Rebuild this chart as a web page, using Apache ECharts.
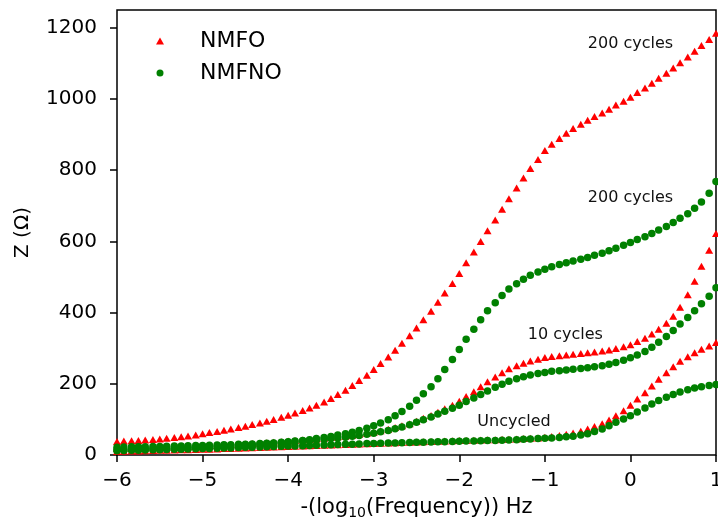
<!DOCTYPE html>
<html>
<head>
<meta charset="utf-8">
<script src="https://cdn.jsdelivr.net/npm/echarts@6/dist/echarts.min.js"></script>
<style>
  html, body { margin: 0; padding: 0; background: #fff; }
  #chart { width: 718px; height: 529px; }
</style>
</head>
<body>
<div id="chart"></div>
<script>
// Frequency sweep: -(log10 f), 12 points per decade
const logFreq = [
  -6, -5.92, -5.83, -5.75, -5.67, -5.58, -5.5, -5.42, -5.33, -5.25, -5.17, -5.08,
  -5, -4.92, -4.83, -4.75, -4.67, -4.58, -4.5, -4.42, -4.33, -4.25, -4.17, -4.08,
  -4, -3.92, -3.83, -3.75, -3.67, -3.58, -3.5, -3.42, -3.33, -3.25, -3.17, -3.08,
  -3, -2.92, -2.83, -2.75, -2.67, -2.58, -2.5, -2.42, -2.33, -2.25, -2.17, -2.08,
  -2, -1.92, -1.83, -1.75, -1.67, -1.58, -1.5, -1.42, -1.33, -1.25, -1.17, -1.08,
  -1, -0.92, -0.83, -0.75, -0.67, -0.58, -0.5, -0.42, -0.33, -0.25, -0.17, -0.08,
  0, 0.08, 0.17, 0.25, 0.33, 0.42, 0.5, 0.58, 0.67, 0.75, 0.83, 0.92, 1
];

// NMFO impedance (ohm)
const nmfoUncycled = [
  10, 10.5, 11, 11.5, 12, 12.5, 13, 13.5, 14, 14.5, 15, 15.5, 16,
  16.5, 17, 18, 18.5, 19, 20, 20.5, 21, 22, 22.5, 23, 24,
  24.5, 25, 26, 27, 27.5, 28, 29, 29.5, 30, 31, 31.5, 32.5,
  33, 34, 34.5, 35, 36, 36.5, 37, 38, 38.5, 39, 40, 40.5,
  41, 41.5, 42, 42.5, 43, 44, 44.5, 45, 46, 47, 48, 50,
  52, 55, 58, 62, 67, 73, 80, 88, 98, 110, 124, 140,
  157, 175, 194, 213, 231, 248, 263, 276, 287, 297, 306, 316
];
const nmfo10 = [
  18, 18.5, 19, 19.5, 20, 20.5, 21, 21.5, 22, 22.5, 23, 24, 25,
  26, 27, 28, 29, 30, 31, 32, 33, 34.5, 36, 37.5, 39,
  40.5, 42, 43.5, 45, 47, 49, 51, 53, 55.5, 58, 61, 64,
  68, 72, 77, 82, 88, 95, 103, 111, 120, 130, 140, 151,
  164, 178, 192, 206, 219, 231, 242, 251, 258, 264, 269, 274,
  277, 279, 281, 283, 285, 287, 289, 292, 295, 299, 304, 310,
  319, 328, 340, 353, 370, 390, 415, 450, 488, 530, 575, 622
];
const nmfo200 = [
  38, 39, 40, 41, 42, 43.5, 45, 47, 49, 51, 53.5, 56.5, 60,
  63, 66, 69.5, 73, 77, 81, 85.5, 90, 95, 100, 106, 112,
  118, 125, 132, 140, 149, 159, 170, 182, 195, 209, 224, 240,
  257, 275, 294, 314, 335, 357, 380, 404, 429, 455, 482, 510,
  540, 570, 600, 630, 660, 690, 720, 750, 778, 805, 830, 855,
  873, 889, 904, 917, 929, 940, 951, 961, 971, 983, 994, 1005,
  1018, 1031, 1044, 1058, 1072, 1087, 1102, 1118, 1134, 1150, 1167, 1185
];

// NMFNO impedance (ohm)
const nmfnoUncycled = [
  12, 12.5, 13, 13.5, 14, 14.5, 15, 15.5, 16, 16.5, 17, 17.5, 18,
  18.5, 19, 19.5, 20, 21, 21.5, 22, 22.5, 23, 24, 24.5, 25,
  25.5, 26, 27, 27.5, 28, 29, 29.5, 30, 30.5, 31, 32, 32.5,
  33, 33.5, 34, 34.5, 35, 35.5, 36, 36.5, 37, 37.5, 38, 38.5,
  39, 39.5, 40, 40.5, 41, 41.5, 42, 43, 44, 45, 46, 47,
  48, 49, 51, 53, 56, 60, 66, 73, 82, 92, 101, 110,
  121, 132, 143, 153, 162, 170, 177, 183, 188, 192, 195, 198
];
const nmfno10 = [
  15, 15.5, 16, 16.5, 17, 17.5, 18, 18.5, 19, 19.5, 20, 21, 22,
  23, 24, 25, 26, 27, 28, 29, 30, 31.5, 33, 34.5, 36,
  37.5, 39, 40.5, 42, 44, 46, 48, 50, 52.5, 55, 58, 61,
  65, 69, 74, 79, 85, 92, 99, 107, 115, 123, 131, 140,
  150, 160, 170, 180, 190, 199, 207, 214, 220, 225, 229, 232,
  235, 237, 239, 241, 243, 245, 248, 251, 255, 260, 266, 273,
  281, 291, 303, 317, 333, 350, 368, 386, 405, 425, 446, 470
];
const nmfno200 = [
  22, 22.5, 23, 23, 23.5, 24, 24, 24.5, 25, 25.5, 26, 26.5, 27,
  27.5, 28, 28.5, 29, 30, 30.5, 31, 32, 33, 34, 35.5, 37,
  39, 41, 43, 46, 49, 52, 56, 60, 64, 69, 75, 82,
  90, 99, 110, 122, 137, 154, 172, 192, 214, 240, 268, 296,
  325, 353, 380, 405, 428, 448, 466, 481, 494, 505, 514, 522,
  529, 535, 540, 545, 550, 555, 561, 567, 574, 581, 589, 597,
  605, 613, 622, 632, 642, 653, 665, 678, 693, 711, 735, 768
];

const xTicks = [-6, -5, -4, -3, -2, -1, 0, 1];
const yTicks = [0, 200, 400, 600, 800, 1000, 1200];

// Curve labels, anchored in data coordinates [x, Z]
const cycleNotes = [
  { text: '200 cycles', at: [0.0, 1154] },
  { text: '200 cycles', at: [0.0, 723] },
  { text: '10 cycles', at: [-0.76, 337] },
  { text: 'Uncycled', at: [-1.36, 93] }
];

const RED = '#ff0000';
const GREEN = '#008000';
const FONT = 'DejaVu Sans';

function pairs(values) {
  return logFreq.map((x, i) => [x, values[i]]);
}

function scatter(name, values, color, symbol, size) {
  return {
    type: 'scatter',
    name: name,
    data: pairs(values),
    symbol: symbol,
    symbolSize: size,
    itemStyle: { color: color, opacity: 1 },
    emphasis: { disabled: true },
    silent: true
  };
}

const minus = v => (v < 0 ? '\u2212' + Math.abs(v) : String(v));

const option = {
  animation: false,
  backgroundColor: '#fff',
  textStyle: { fontFamily: FONT },
  grid: {
    left: 117, right: 2, top: 10, bottom: 74,
    outerBoundsMode: 'none',
    containLabel: false,
    show: true, borderColor: '#000', borderWidth: 1.5, backgroundColor: 'transparent'
  },
  legend: {
    orient: 'vertical',
    left: 151, top: 25,
    itemWidth: 8, itemHeight: 7, itemGap: 10,
    selectedMode: false,
    textStyle: { fontFamily: FONT, fontSize: 22, lineHeight: 22, color: '#000', padding: [0, 0, 0, 31] },
    data: [
      { name: 'NMFO', icon: 'triangle' },
      { name: 'NMFNO', icon: 'circle' }
    ]
  },
  xAxis: {
    type: 'value',
    min: -6, max: 1, interval: 1,
    name: '-(log{sub|10}(Frequency)) Hz',
    nameLocation: 'middle',
    nameGap: 38,
    nameTextStyle: {
      fontFamily: FONT, fontSize: 21, color: '#000', lineHeight: 24,
      rich: { sub: { fontFamily: FONT, fontSize: 14, lineHeight: 14, verticalAlign: 'bottom', color: '#000' } }
    },
    axisLine: { show: false, onZero: false },
    splitLine: { show: false },
    axisTick: { show: true, length: 7, lineStyle: { color: '#000', width: 1.5 }, customValues: xTicks },
    axisLabel: { fontFamily: FONT, fontSize: 20, color: '#000', margin: 16, formatter: minus, customValues: xTicks }
  },
  yAxis: {
    type: 'value',
    min: 0, max: 1250, interval: 200,
    name: 'Z (\u03A9)',
    nameLocation: 'middle',
    nameGap: 84,
    nameTextStyle: { fontFamily: FONT, fontSize: 20, color: '#000' },
    axisLine: { show: false, onZero: false },
    splitLine: { show: false },
    axisTick: { show: true, length: 7, lineStyle: { color: '#000', width: 1.5 }, customValues: yTicks },
    axisLabel: { fontFamily: FONT, fontSize: 20, color: '#000', margin: 20, formatter: v => String(v), customValues: yTicks }
  },
  series: [
    scatter('NMFO', nmfoUncycled, RED, 'triangle', [8, 7]),
    scatter('NMFO', nmfo10, RED, 'triangle', [8, 7]),
    scatter('NMFO', nmfo200, RED, 'triangle', [8, 7]),
    scatter('NMFNO', nmfnoUncycled, GREEN, 'circle', 7.5),
    scatter('NMFNO', nmfno10, GREEN, 'circle', 7.5),
    scatter('NMFNO', nmfno200, GREEN, 'circle', 7.5)
  ]
};

const chart = echarts.init(document.getElementById('chart'), null, { renderer: 'canvas' });
chart.setOption(option);

// Place the cycle labels next to their curves
chart.setOption({
  graphic: cycleNotes.map(n => {
    const p = chart.convertToPixel({ gridIndex: 0 }, n.at);
    return {
      type: 'text',
      x: p[0], y: p[1],
      silent: true,
      style: {
        text: n.text,
        font: '16px "' + FONT + '"',
        fill: '#111',
        align: 'center',
        verticalAlign: 'middle'
      }
    };
  })
});
</script>
</body>
</html>
